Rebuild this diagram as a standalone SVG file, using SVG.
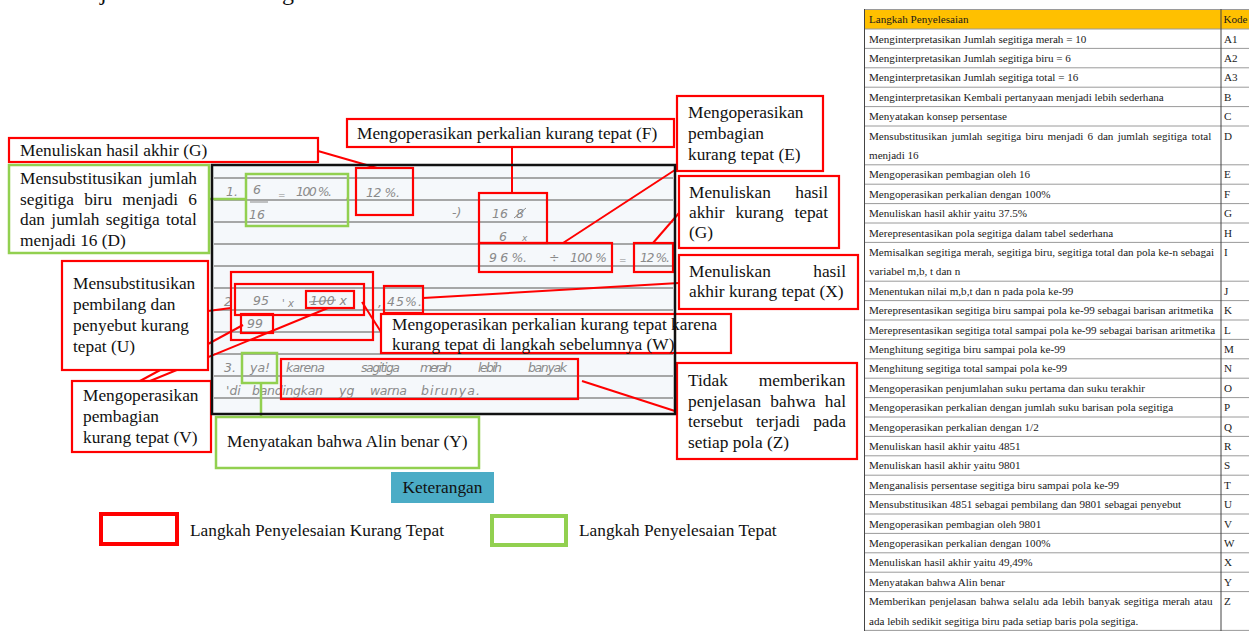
<svg xmlns="http://www.w3.org/2000/svg" width="1249" height="633" viewBox="0 0 1249 633">
<style>
.r{fill:#fff;stroke:#ff0000;stroke-width:2.2}
.rm{fill:none;stroke:#ff0000;stroke-width:2.2}
.g{fill:#fff;stroke:#92d050;stroke-width:2.5}
.gm{fill:none;stroke:#92d050;stroke-width:2.5}
.t{font-family:"Liberation Serif","Times New Roman",serif;font-size:17.33px;fill:#111}
.hw{font-family:"DejaVu Sans",sans-serif;font-size:12.5px;fill:#8a8a8a;font-style:italic}
.tb{font-family:"Liberation Serif","Times New Roman",serif;font-size:11.1px;fill:#1a1a1a}
.cr{stroke:#ff0000;stroke-width:2;fill:none}
.cg{stroke:#92d050;stroke-width:2.5;fill:none}
.rule{stroke:#8c8c8c;stroke-width:1.4}
</style>

<!-- cut-off heading fragments -->
<text x="100" y="0" style="font-family:'Liberation Serif',serif;font-size:24px;fill:#111">j</text>
<text x="282" y="0" style="font-family:'Liberation Serif',serif;font-size:24px;fill:#111">g</text>

<!-- answer sheet -->
<g id="sheet">
<rect x="212" y="165" width="463" height="249" fill="#f5f8fb"/>
<path class="rule" d="M214 178H673M214 200H673M214 222H673M214 244H673M214 266H673M214 288H673M214 310H673M214 332H673M214 354H673M214 376H673M214 398H673"/>
<!-- handwriting row 1 -->
<text class="hw" x="226" y="196">1.</text>
<text class="hw" x="253" y="194">6</text>
<line x1="250" y1="202" x2="268" y2="202" stroke="#8a8a8a" stroke-width="1"/>
<text class="hw" x="249" y="219">16</text>
<text class="hw" x="278" y="198" style="font-size:9px">=</text>
<text class="hw" x="296" y="196" textLength="36" lengthAdjust="spacing">100 %.</text>
<text class="hw" x="346" y="199">,</text>
<text class="hw" x="366" y="197" textLength="34" lengthAdjust="spacing">12 %.</text>
<text class="hw" x="452" y="217">-)</text>
<text class="hw" x="492" y="218">16</text>
<text class="hw" x="516" y="218">8</text>
<line x1="514" y1="218" x2="526" y2="208" stroke="#8a8a8a" stroke-width="1"/>
<text class="hw" x="499" y="241">6</text>
<text class="hw" x="522" y="241" style="font-size:9px">x</text>
<text class="hw" x="489" y="262" textLength="38" lengthAdjust="spacing">9 6 %.</text>
<text class="hw" x="549" y="262">÷</text>
<text class="hw" x="570" y="262" textLength="37" lengthAdjust="spacing">100 %</text>
<text class="hw" x="619" y="263" style="font-size:9px">=</text>
<text class="hw" x="640" y="262" textLength="30" lengthAdjust="spacing">12 %.</text>
<!-- handwriting row 2 -->
<text class="hw" x="224" y="306">2</text>
<text class="hw" x="253" y="305">95</text>
<text class="hw" x="282" y="307" style="font-size:10px">' x</text>
<text class="hw" x="310" y="305" textLength="37" lengthAdjust="spacing">100 x</text>
<line x1="309" y1="302" x2="336" y2="300" stroke="#8a8a8a" stroke-width="1"/>
<text class="hw" x="378" y="307">,</text>
<text class="hw" x="387" y="306" textLength="35" lengthAdjust="spacing">45%.</text>
<text class="hw" x="247" y="328">99</text>
<!-- handwriting row 3 -->
<text class="hw" x="224" y="372">3.</text>
<text class="hw" x="250" y="372">ya!</text>
<text class="hw" x="286" y="372" textLength="39" lengthAdjust="spacing">karena</text>
<text class="hw" x="361" y="372" textLength="39" lengthAdjust="spacing">sagitiga</text>
<text class="hw" x="420" y="372" textLength="32" lengthAdjust="spacing">merah</text>
<text class="hw" x="478" y="372" textLength="24" lengthAdjust="spacing">lebih</text>
<text class="hw" x="528" y="372" textLength="39" lengthAdjust="spacing">banyak</text>
<text class="hw" x="226" y="395">'di</text>
<text class="hw" x="252" y="395" textLength="71" lengthAdjust="spacing">bandingkan</text>
<text class="hw" x="339" y="395">yg</text>
<text class="hw" x="370" y="395" textLength="37" lengthAdjust="spacing">warna</text>
<text class="hw" x="421" y="395" textLength="59" lengthAdjust="spacing">birunya.</text>
</g>

<!-- marker boxes on the sheet -->
<g id="m-d"><rect class="gm" x="246" y="174" width="102" height="52"/></g>
<g id="m-g1"><rect class="rm" x="356" y="168" width="57" height="47"/></g>
<g id="m-f"><rect class="rm" x="479" y="193" width="68" height="50"/></g>
<g id="m-e"><rect class="rm" x="479" y="243" width="133" height="29"/></g>
<g id="m-g2"><rect class="rm" x="634" y="243" width="39" height="29"/></g>
<g id="m-w"><rect class="rm" x="231" y="272" width="142" height="68"/></g>
<g id="m-u"><rect class="rm" x="235" y="284" width="129" height="31"/></g>
<g id="m-v1"><rect class="rm" x="306" y="291" width="48" height="17"/></g>
<g id="m-v2"><rect class="rm" x="241" y="314" width="32" height="19"/></g>
<g id="m-x"><rect class="rm" x="384" y="286" width="39" height="27"/></g>
<g id="m-y"><rect class="gm" x="242" y="353" width="35" height="30"/></g>
<g id="m-z"><rect class="rm" x="281" y="359" width="297" height="40"/></g>

<!-- connectors -->
<g id="connectors">
<line class="cr" x1="318" y1="151" x2="377" y2="168"/>
<line class="cg" x1="209" y1="199" x2="246" y2="199"/>
<line class="cr" x1="512" y1="147" x2="512" y2="193"/>
<line class="cr" x1="678" y1="168" x2="563" y2="243"/>
<line class="cr" x1="679" y1="213" x2="653" y2="243"/>
<line class="cr" x1="679" y1="283" x2="423" y2="298"/>
<line class="cr" x1="381" y1="332" x2="362" y2="302"/>
<line class="cr" x1="678" y1="412" x2="582" y2="381"/>
<line class="cr" x1="208" y1="311" x2="231" y2="308"/>
<line class="cr" x1="140" y1="381" x2="243" y2="325"/>
<line class="cr" x1="150" y1="381" x2="328" y2="308"/>
<line class="cg" x1="261" y1="383" x2="261" y2="417"/>
</g>

<!-- callouts -->
<g id="c-g1">
<rect class="r" x="9" y="138" width="309" height="24"/>
<text class="t" x="20" y="156">Menuliskan hasil akhir (G)</text>
</g>
<g id="c-d">
<rect class="g" x="9" y="165" width="200" height="88"/>
<text class="t" x="20" y="184" word-spacing="2.3">Mensubstitusikan jumlah</text>
<text class="t" x="20" y="204.5" word-spacing="5.9">segitiga biru menjadi 6</text>
<text class="t" x="20" y="225" word-spacing="2">dan jumlah segitiga total</text>
<text class="t" x="20" y="245.5">menjadi 16 (D)</text>
</g>
<g id="c-f">
<rect class="r" x="347" y="119" width="327" height="28"/>
<text class="t" x="357" y="139">Mengoperasikan perkalian kurang tepat (F)</text>
</g>
<g id="c-e">
<rect class="r" x="677" y="96" width="146" height="75"/>
<text class="t" x="688" y="118">Mengoperasikan</text>
<text class="t" x="688" y="139">pembagian</text>
<text class="t" x="688" y="160">kurang tepat (E)</text>
</g>
<g id="c-g2">
<rect class="r" x="679" y="176" width="160" height="72"/>
<text class="t" x="689" y="198" word-spacing="20.1">Menuliskan hasil</text>
<text class="t" x="689" y="218" word-spacing="6.5">akhir kurang tepat</text>
<text class="t" x="689" y="238">(G)</text>
</g>
<g id="c-x">
<rect class="r" x="679" y="255" width="179" height="54"/>
<text class="t" x="689" y="277" word-spacing="38.1">Menuliskan hasil</text>
<text class="t" x="689" y="297">akhir kurang tepat (X)</text>
</g>
<g id="c-w">
<rect class="r" x="381" y="314" width="350" height="39"/>
<text class="t" x="392" y="330">Mengoperasikan perkalian kurang tepat karena</text>
<text class="t" x="392" y="349.5">kurang tepat di langkah sebelumnya (W)</text>
</g>
<g id="c-z">
<rect class="r" x="677" y="363" width="180" height="96"/>
<text class="t" x="688" y="386" word-spacing="26.6">Tidak memberikan</text>
<text class="t" x="688" y="406.5" word-spacing="4.9">penjelasan bahwa hal</text>
<text class="t" x="688" y="427" word-spacing="8.7">tersebut terjadi pada</text>
<text class="t" x="688" y="447.5">setiap pola (Z)</text>
</g>
<g id="c-u">
<rect class="r" x="62" y="261" width="146" height="109"/>
<text class="t" x="73" y="289">Mensubstitusikan</text>
<text class="t" x="73" y="310">pembilang dan</text>
<text class="t" x="73" y="331">penyebut kurang</text>
<text class="t" x="73" y="352">tepat (U)</text>
</g>
<g id="c-v">
<rect class="r" x="72" y="381" width="139" height="71"/>
<text class="t" x="83" y="401">Mengoperasikan</text>
<text class="t" x="83" y="422">pembagian</text>
<text class="t" x="83" y="443">kurang tepat (V)</text>
</g>
<g id="c-y">
<rect class="g" x="216" y="417" width="263" height="51"/>
<text class="t" x="227" y="447">Menyatakan bahwa Alin benar (Y)</text>
</g>

<!-- sheet border on top -->
<rect x="212" y="165" width="463" height="249" fill="none" stroke="#111" stroke-width="2.5"/>

<!-- legend -->
<g id="legend">
<rect x="391" y="472" width="103" height="31" fill="#4bacc6"/>
<text class="t" x="442.5" y="493" text-anchor="middle">Keterangan</text>
<rect x="101" y="514" width="76" height="30" fill="#fff" stroke="#ff0000" stroke-width="4"/>
<text class="t" x="190" y="536">Langkah Penyelesaian Kurang Tepat</text>
<rect x="492" y="516" width="74" height="29" fill="#fff" stroke="#92d050" stroke-width="4"/>
<text class="t" x="579" y="536">Langkah Penyelesaian Tepat</text>
</g>

<!-- table -->
<g id="table">
<rect x="864" y="9" width="390" height="20" fill="#ffc000"/>
<path d="M864 9.5H1249M864 29H1249M864 48.4H1249M864 67.8H1249M864 87.2H1249M864 106.6H1249M864 126H1249M864 164.8H1249M864 184.2H1249M864 203.6H1249M864 223H1249M864 242.4H1249M864 281.2H1249M864 300.6H1249M864 320H1249M864 339.4H1249M864 358.8H1249M864 378.2H1249M864 397.6H1249M864 417H1249M864 436.4H1249M864 455.8H1249M864 475.2H1249M864 494.6H1249M864 514H1249M864 533.4H1249M864 552.8H1249M864 572.2H1249M864 591.6H1249M864 630.4H1249" stroke="#9a9a9a" stroke-width="1" fill="none"/>
<path d="M864.5 9V631M1221 9V631" stroke="#444" stroke-width="1" fill="none"/>
<g class="tb">
<text class="tb" x="869" y="22.5">Langkah Penyelesaian</text><text class="tb" x="1223.5" y="22.5">Kode</text>
<text class="tb" x="869" y="42.6">Menginterpretasikan Jumlah segitiga merah = 10</text><text class="tb" x="1224" y="42.6">A1</text>
<text class="tb" x="869" y="62">Menginterpretasikan Jumlah segitiga biru = 6</text><text class="tb" x="1224" y="62">A2</text>
<text class="tb" x="869" y="81.4">Menginterpretasikan Jumlah segitiga total = 16</text><text class="tb" x="1224" y="81.4">A3</text>
<text class="tb" x="869" y="100.8">Menginterpretasikan Kembali pertanyaan menjadi lebih sederhana</text><text class="tb" x="1224" y="100.8">B</text>
<text class="tb" x="869" y="120.2">Menyatakan konsep persentase</text><text class="tb" x="1224" y="120.2">C</text>
<text class="tb" x="869" y="139.6" word-spacing="1.5">Mensubstitusikan jumlah segitiga biru menjadi 6 dan jumlah segitiga total</text><text class="tb" x="1224" y="139.6">D</text>
<text class="tb" x="869" y="159">menjadi 16</text>
<text class="tb" x="869" y="178.4">Mengoperasikan pembagian oleh 16</text><text class="tb" x="1224" y="178.4">E</text>
<text class="tb" x="869" y="197.8">Mengoperasikan perkalian dengan 100%</text><text class="tb" x="1224" y="197.8">F</text>
<text class="tb" x="869" y="217.2">Menuliskan hasil akhir yaitu 37.5%</text><text class="tb" x="1224" y="217.2">G</text>
<text class="tb" x="869" y="236.6">Merepresentasikan pola segitiga dalam tabel sederhana</text><text class="tb" x="1224" y="236.6">H</text>
<text class="tb" x="869" y="256">Memisalkan segitiga merah, segitiga biru, segitiga total dan pola ke-n sebagai</text><text class="tb" x="1224" y="256">I</text>
<text class="tb" x="869" y="275.4">variabel m,b, t dan n</text>
<text class="tb" x="869" y="294.8">Menentukan nilai m,b,t dan n pada pola ke-99</text><text class="tb" x="1224" y="294.8">J</text>
<text class="tb" x="869" y="314.2">Merepresentasikan segitiga biru sampai pola ke-99 sebagai barisan aritmetika</text><text class="tb" x="1224" y="314.2">K</text>
<text class="tb" x="869" y="333.6">Merepresentasikan segitiga total sampai pola ke-99 sebagai barisan aritmetika</text><text class="tb" x="1224" y="333.6">L</text>
<text class="tb" x="869" y="353">Menghitung segitiga biru sampai pola ke-99</text><text class="tb" x="1224" y="353">M</text>
<text class="tb" x="869" y="372.4">Menghitung segitiga total sampai pola ke-99</text><text class="tb" x="1224" y="372.4">N</text>
<text class="tb" x="869" y="391.8">Mengoperasikan penjumlahan suku pertama dan suku terakhir</text><text class="tb" x="1224" y="391.8">O</text>
<text class="tb" x="869" y="411.2">Mengoperasikan perkalian dengan jumlah suku barisan pola segitiga</text><text class="tb" x="1224" y="411.2">P</text>
<text class="tb" x="869" y="430.6">Mengoperasikan perkalian dengan 1/2</text><text class="tb" x="1224" y="430.6">Q</text>
<text class="tb" x="869" y="450">Menuliskan hasil akhir yaitu 4851</text><text class="tb" x="1224" y="450">R</text>
<text class="tb" x="869" y="469.4">Menuliskan hasil akhir yaitu 9801</text><text class="tb" x="1224" y="469.4">S</text>
<text class="tb" x="869" y="488.8">Menganalisis persentase segitiga biru sampai pola ke-99</text><text class="tb" x="1224" y="488.8">T</text>
<text class="tb" x="869" y="508.2">Mensubstitusikan 4851 sebagai pembilang dan 9801 sebagai penyebut</text><text class="tb" x="1224" y="508.2">U</text>
<text class="tb" x="869" y="527.6">Mengoperasikan pembagian oleh 9801</text><text class="tb" x="1224" y="527.6">V</text>
<text class="tb" x="869" y="547">Mengoperasikan perkalian dengan 100%</text><text class="tb" x="1224" y="547">W</text>
<text class="tb" x="869" y="566.4">Menuliskan hasil akhir yaitu 49,49%</text><text class="tb" x="1224" y="566.4">X</text>
<text class="tb" x="869" y="585.8">Menyatakan bahwa Alin benar</text><text class="tb" x="1224" y="585.8">Y</text>
<text class="tb" x="869" y="605.2" word-spacing="1.1">Memberikan penjelasan bahwa selalu ada lebih banyak segitiga merah atau</text><text class="tb" x="1224" y="605.2">Z</text>
<text class="tb" x="869" y="624.6">ada lebih sedikit segitiga biru pada setiap baris pola segitiga.</text>
</g>
</g>
</svg>
